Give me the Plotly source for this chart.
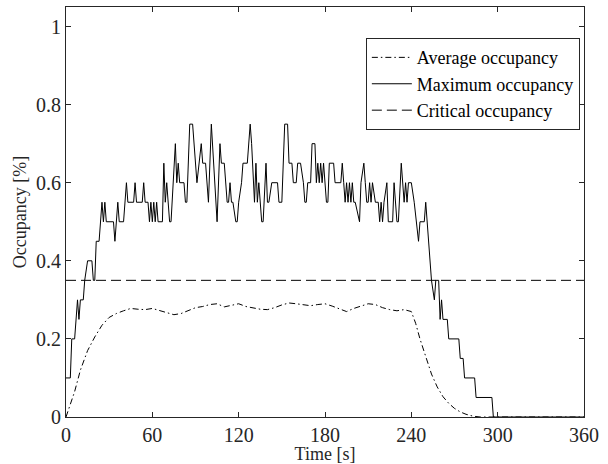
import plotly.graph_objects as go

# ---------------- data ----------------
max_time = [0, 3, 4, 6, 8, 9, 10, 12, 13, 15, 18, 19, 20, 21, 23, 25, 26, 27, 28, 33,
            34, 36, 37, 40, 42, 43, 47, 48, 49, 53, 54, 55, 57, 58, 59, 60, 61, 62, 63, 64,
            66, 67, 68, 69, 70, 72, 73, 76, 77, 78, 79, 81, 82, 83, 84, 86, 88, 91, 94, 95,
            97, 99, 101, 105, 107, 108, 110, 112, 113, 114, 115, 116, 118, 119, 120, 122, 123, 126, 128, 129,
            130, 131, 132, 133, 134, 136, 137, 139, 140, 141, 143, 147, 148, 150, 152, 154, 155, 157, 158, 160,
            161, 163, 165, 166, 167, 168, 170, 171, 173, 174, 175, 176, 177, 178, 179, 180, 181, 182, 183, 186,
            187, 191, 192, 193, 194, 195, 196, 197, 198, 199, 200, 201, 204, 205, 207, 208, 209, 210, 211, 212,
            213, 215, 217, 218, 219, 220, 221, 223, 224, 227, 228, 230, 231, 233, 234, 235, 236, 237, 238, 240,
            242, 245, 246, 249, 250, 254, 256, 257, 259, 260, 261, 262, 265, 266, 273, 274, 276, 277, 284, 285,
            296, 297, 360]
max_occ = [0.10, 0.10, 0.20, 0.20, 0.30, 0.25, 0.30, 0.30, 0.35, 0.40, 0.40, 0.35, 0.35, 0.45, 0.45, 0.55, 0.50, 0.55, 0.50, 0.50,
           0.45, 0.55, 0.50, 0.50, 0.60, 0.55, 0.55, 0.60, 0.55, 0.55, 0.60, 0.55, 0.55, 0.50, 0.55, 0.50, 0.55, 0.50, 0.55, 0.50,
           0.50, 0.50, 0.65, 0.55, 0.60, 0.50, 0.50, 0.70, 0.60, 0.65, 0.60, 0.60, 0.60, 0.55, 0.55, 0.75, 0.75, 0.60, 0.70, 0.65,
           0.65, 0.55, 0.75, 0.50, 0.70, 0.65, 0.65, 0.55, 0.55, 0.60, 0.55, 0.55, 0.50, 0.50, 0.55, 0.60, 0.65, 0.65, 0.75, 0.70,
           0.60, 0.55, 0.65, 0.55, 0.60, 0.50, 0.50, 0.65, 0.55, 0.55, 0.60, 0.60, 0.55, 0.55, 0.75, 0.75, 0.65, 0.65, 0.60, 0.60,
           0.65, 0.65, 0.60, 0.55, 0.55, 0.60, 0.60, 0.70, 0.70, 0.60, 0.65, 0.60, 0.65, 0.60, 0.65, 0.60, 0.55, 0.55, 0.65, 0.65,
           0.60, 0.60, 0.65, 0.60, 0.55, 0.60, 0.55, 0.60, 0.55, 0.60, 0.55, 0.55, 0.50, 0.60, 0.65, 0.60, 0.55, 0.55, 0.60, 0.55,
           0.60, 0.55, 0.55, 0.50, 0.55, 0.50, 0.55, 0.60, 0.50, 0.50, 0.60, 0.50, 0.50, 0.65, 0.60, 0.55, 0.60, 0.55, 0.60, 0.60,
           0.55, 0.45, 0.50, 0.50, 0.55, 0.35, 0.30, 0.35, 0.35, 0.25, 0.30, 0.25, 0.25, 0.20, 0.20, 0.15, 0.15, 0.10, 0.10, 0.05,
           0.05, 0.00, 0.00]

avg_time = [0, 3, 6, 10, 15, 20, 25, 30, 35, 40, 45, 50, 55, 60, 65, 70, 75, 80, 85, 90,
            95, 100, 105, 110, 115, 120, 125, 130, 135, 140, 145, 150, 155, 160, 165, 170, 175, 180, 185, 190,
            195, 200, 205, 210, 215, 220, 225, 230, 235, 240, 243, 246, 250, 254, 258, 262, 266, 270, 274, 278,
            283, 288, 360]
avg_occ = [0.000, 0.030, 0.065, 0.120, 0.170, 0.205, 0.235, 0.255, 0.265, 0.272, 0.278, 0.276, 0.275, 0.278, 0.272, 0.268, 0.262, 0.265, 0.272, 0.280,
           0.283, 0.288, 0.290, 0.282, 0.286, 0.290, 0.283, 0.280, 0.276, 0.275, 0.280, 0.287, 0.292, 0.290, 0.288, 0.285, 0.288, 0.290, 0.284, 0.276,
           0.270, 0.278, 0.285, 0.290, 0.288, 0.280, 0.275, 0.272, 0.275, 0.270, 0.240, 0.200, 0.155, 0.110, 0.077, 0.052, 0.035, 0.022, 0.013, 0.007,
           0.002, 0.000, 0.000]

crit_time = [0, 360]
crit_occ = [0.35, 0.35]

x_ticks = [0, 60, 120, 180, 240, 300, 360]
y_ticks = [0, 0.2, 0.4, 0.6, 0.8, 1]

FONT = "Liberation Serif"
AX = "#262626"

fig = go.Figure()
fig.add_trace(go.Scatter(x=avg_time, y=avg_occ, mode="lines", name="Average occupancy",
                         line=dict(color="black", width=1, dash="6px,3px,1.5px,3px")))
fig.add_trace(go.Scatter(x=max_time, y=max_occ, mode="lines", name="Maximum occupancy",
                         line=dict(color="black", width=1)))
fig.add_trace(go.Scatter(x=crit_time, y=crit_occ, mode="lines", name="Critical occupancy",
                         line=dict(color="black", width=1, dash="10px,5px")))

axis_common = dict(showline=True, linecolor=AX, linewidth=1, mirror="ticks",
                   ticks="inside", ticklen=5, tickcolor=AX, tickwidth=1,
                   showgrid=False, zeroline=False, automargin=False,
                   tickfont=dict(family=FONT, size=20, color=AX))

fig.update_xaxes(range=[0, 360], tickvals=x_ticks, ticktext=[str(v) for v in x_ticks],
                 title=dict(text="Time [s]", font=dict(family=FONT, size=18, color=AX), standoff=0),
                 **axis_common)
fig.update_yaxes(range=[0, 1.05], tickvals=y_ticks, ticktext=["0", "0.2", "0.4", "0.6", "0.8", "1"],
                 title=dict(text="Occupancy [%]", font=dict(family=FONT, size=18, color=AX), standoff=4),
                 **axis_common)

fig.update_layout(
    width=608, height=464,
    margin=dict(l=66, r=24, t=7, b=47),
    paper_bgcolor="white", plot_bgcolor="white",
    font=dict(family=FONT, size=18, color="black"),
    showlegend=True,
    legend=dict(x=0.992, xanchor="right", y=0.924, yanchor="top",
                bordercolor=AX, borderwidth=1, bgcolor="white",
                font=dict(family=FONT, size=18, color="black"),
                itemwidth=40, tracegroupgap=0),
)

fig.write_html("out.html", config={"displayModeBar": False},
               post_script="document.body.style.margin='0px';")
